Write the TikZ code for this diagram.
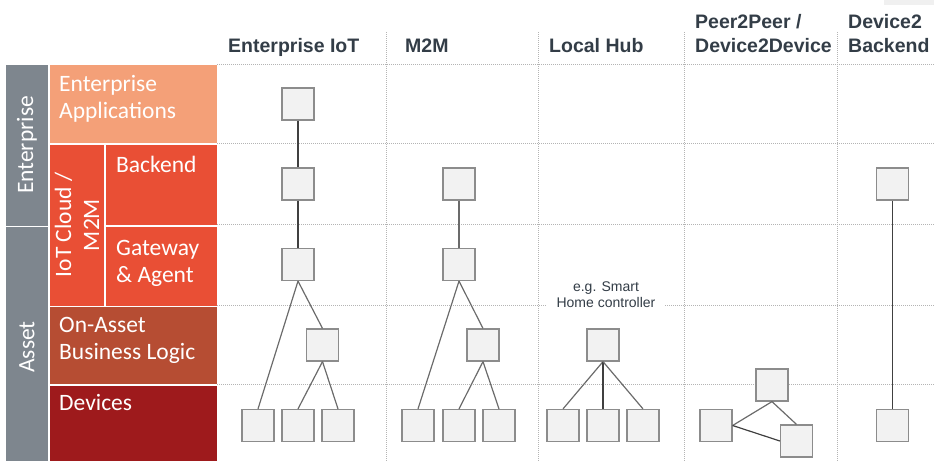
\documentclass[tikz,border=0pt]{standalone}
\usepackage{fontspec}
\setmainfont{Liberation Sans}
\newfontfamily\calib{Carlito}
\definecolor{headtxt}{HTML}{333D47}
\definecolor{bandgray}{HTML}{7E868E}
\definecolor{entapp}{HTML}{F4A078}
\definecolor{cloud}{HTML}{E94F35}
\definecolor{onasset}{HTML}{B64D33}
\definecolor{devices}{HTML}{9E1A1C}
\definecolor{boxfill}{HTML}{F2F2F2}
\definecolor{boxline}{HTML}{8C8C8C}
\definecolor{gridline}{HTML}{B4B4B4}
\tikzset{
  head/.style={anchor=base west, inner sep=0pt, text=headtxt,
    font=\fontsize{19.5}{24}\selectfont\bfseries},
  layer/.style={anchor=base west, inner sep=0pt, text=white, align=left,
    font=\calib\fontsize{23.5}{27}\selectfont},
  band/.style={rotate=90, inner sep=0pt, text=white, align=center,
    font=\calib\fontsize{23.5}{28}\selectfont},
  unit/.style={draw=boxline, fill=boxfill, line width=1.2pt,
    minimum size=32pt, inner sep=0pt},
  grid/.style={draw=gridline, line width=1pt, dash pattern=on 1pt off 1pt},
  link/.style={draw=black!58, line width=1.2pt},
  linkdark/.style={draw=black!75, line width=1.2pt},
}
\begin{document}
\begin{tikzpicture}[x=1pt, y=-1pt]
\useasboundingbox (0,0) rectangle (934,461);
\fill[black!6] (884,0) rectangle (934,5);

% layer blocks
\fill[bandgray] (6,64.5) rectangle (48,225.5);
\fill[bandgray] (6,227) rectangle (48,461);
\fill[entapp] (49.5,64.5) rectangle (217,143);
\fill[cloud] (49.5,144.5) rectangle (104,305.5);
\fill[cloud] (105.5,144.5) rectangle (217,225);
\fill[cloud] (105.5,226.5) rectangle (217,305.5);
\fill[onasset] (49.5,307) rectangle (217,384);
\fill[devices] (49.5,385.5) rectangle (217,461);

% multi-line labels are placed by the baseline of their last line
\node[band] (bEnt) at (27,145) {Enterprise};
\node[band] (bAsset) at (27,347) {Asset};
\node[band] (bCloud) at (77,225) {IoT Cloud /\\M2M};
\node[layer] (lApp) at (59,118) {Enterprise\\Applications};
\node[layer] (lBack) at (116,172) {Backend};
\node[layer] (lGate) at (116,282) {Gateway\\\& Agent};
\node[layer] (lAsset) at (59,359) {On-Asset\\Business Logic};
\node[layer] (lDev) at (59,410) {Devices};

% grid
\foreach \yy in {64,143.5,224.5,305,384.5}
  \draw[grid] (217,\yy) -- (934,\yy);
\foreach \xx in {386,538,684,837}
  \draw[grid] (\xx,32) -- (\xx,461);

% column headers
\node[head] (hEnt) at (228,52) {Enterprise IoT};
\node[head] (hM2M) at (405,52) {M2M};
\node[head] (hHub) at (549,52) {Local Hub};
\node[head, align=left] (hP2P) at (695,52) {Peer2Peer /\\Device2Device};
\node[head, align=left] (hD2B) at (848,52) {Device2\\Backend};

% Enterprise IoT
\node[unit] (e1) at (298,104) {};
\node[unit] (e2) at (298,184) {};
\node[unit] (e3) at (298,264.5) {};
\node[unit] (e4) at (322.5,345) {};
\node[unit] (e5) at (258,425.5) {};
\node[unit] (e6) at (298,425.5) {};
\node[unit] (e7) at (338,425.5) {};
\draw[linkdark] (e1) -- (e2);
\draw[linkdark] (e2) -- (e3);
\draw[link] (e3.south) -- (e5.north);
\draw[link] (e3.south) -- (e4.north);
\draw[link] (e4.south) -- (e6.north);
\draw[link] (e4.south) -- (e7.north);

% M2M
\node[unit] (m2) at (459,184) {};
\node[unit] (m3) at (459,264.5) {};
\node[unit] (m4) at (483,345) {};
\node[unit] (m5) at (418,425.5) {};
\node[unit] (m6) at (459,425.5) {};
\node[unit] (m7) at (499,425.5) {};
\draw[link] (m2) -- (m3);
\draw[link] (m3.south) -- (m5.north);
\draw[link] (m3.south) -- (m4.north);
\draw[link] (m4.south) -- (m6.north);
\draw[link] (m4.south) -- (m7.north);

% Local hub
\node[fill=white, inner xsep=10pt, inner ysep=1pt, align=center, text=headtxt,
  font=\fontsize{14}{16}\selectfont] (note) at (606,295) {e.g. Smart\\Home controller};
\node[unit] (h4) at (603,345) {};
\node[unit] (h5) at (563,425.5) {};
\node[unit] (h6) at (603,425.5) {};
\node[unit] (h7) at (643,425.5) {};
\draw[link] (h4.south) -- (h5.north);
\draw[linkdark] (h4.south) -- (h6.north);
\draw[link] (h4.south) -- (h7.north);

% Peer to peer
\node[unit] (p1) at (772,385) {};
\node[unit] (p2) at (716,425.5) {};
\node[unit] (p3) at (796.5,441) {};
\draw[link] (p1.south) -- (p2.east);
\draw[link] (p1.south) -- (p3.north);
\draw[linkdark] (p2.east) -- (p3.west);

% Device to backend
\node[unit] (d2) at (892.5,184) {};
\node[unit] (d5) at (892.5,425.5) {};
\draw[linkdark] (d2) -- (d5);
\end{tikzpicture}
\end{document}
